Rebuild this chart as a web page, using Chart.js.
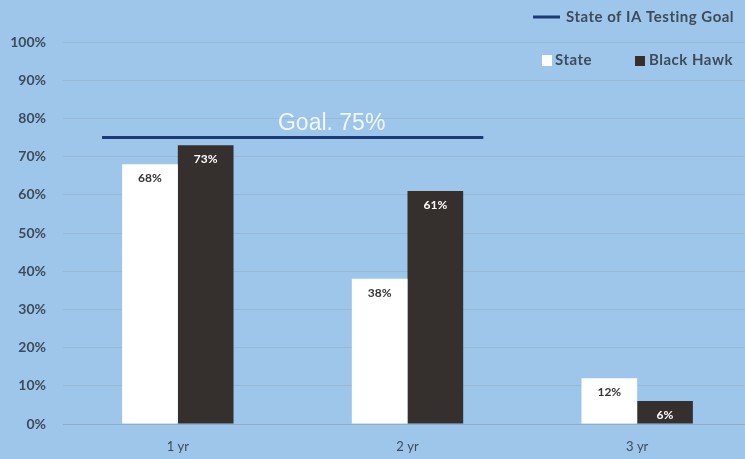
<!DOCTYPE html>
<html><head><meta charset="utf-8">
<script src="https://cdn.jsdelivr.net/npm/chart.js@4/dist/chart.umd.min.js"></script>
<style>html,body{margin:0;padding:0;background:#9dc6ea;overflow:hidden;}#wrap{width:745px;height:459px;overflow:hidden;}</style>
</head><body><div id="wrap"><canvas id="c" width="752" height="459"></canvas></div>
<script>
const categories = ['1 yr', '2 yr', '3 yr'];
const stateValues = [68, 38, 12];
const blackHawkValues = [73, 61, 6];
const goalValue = 75;
const goalLabel = 'Goal. 75%';
const goalLegend = 'State of IA Testing Goal';
const seriesNames = ['State', 'Black Hawk'];
const yTicks = [0, 10, 20, 30, 40, 50, 60, 70, 80, 90, 100];

const FONT = 'Lato, "Open Sans", sans-serif';
const TEXT = '#3d4b5a';

const overlay = {
  id: 'overlay',
  afterDatasetsDraw(chart) {
    const ctx = chart.ctx;
    const x = chart.scales.x, y = chart.scales.y;
    // data labels
    ctx.save();
    ctx.font = 'bold 12px ' + FONT;
    ctx.textAlign = 'center';
    ctx.textBaseline = 'middle';
    chart.data.datasets.forEach((ds, di) => {
      const meta = chart.getDatasetMeta(di);
      meta.data.forEach((bar, i) => {
        ctx.fillStyle = di === 0 ? '#333333' : '#ffffff';
        ctx.fillText(ds.data[i] + '%', bar.x, bar.y + 14);
      });
    });
    // goal line
    const gy = y.getPixelForValue(goalValue);
    const x0 = x.getPixelForValue(-0.33), x1 = x.getPixelForValue(1.33);
    ctx.strokeStyle = '#1c3a78';
    ctx.lineWidth = 3;
    ctx.beginPath(); ctx.moveTo(x0, gy); ctx.lineTo(x1, gy); ctx.stroke();
    ctx.fillStyle = 'rgba(255,255,255,0.85)';
    ctx.font = '23px "Liberation Sans", Arial, sans-serif';
    ctx.textBaseline = 'alphabetic';
    ctx.fillText(goalLabel, (x0 + x1) / 2 + 39, gy - 8);
    // legend
    ctx.font = 'bold 15px ' + FONT;
    ctx.letterSpacing = '0.5px';
    ctx.textAlign = 'left';
    ctx.textBaseline = 'middle';
    ctx.fillStyle = TEXT;
    ctx.strokeStyle = '#1c3a78';
    ctx.lineWidth = 3;
    ctx.beginPath(); ctx.moveTo(533, 17); ctx.lineTo(560, 17); ctx.stroke();
    ctx.fillText(goalLegend, 566, 17);
    ctx.fillStyle = '#ffffff';
    ctx.fillRect(542, 55, 10, 11);
    ctx.fillStyle = TEXT;
    ctx.fillText(seriesNames[0], 555, 60);
    ctx.fillStyle = '#352f2e';
    ctx.fillRect(635, 56, 10, 10);
    ctx.fillStyle = TEXT;
    ctx.fillText(seriesNames[1], 649, 60);
    ctx.restore();
  }
};

new Chart(document.getElementById('c'), {
  type: 'bar',
  data: {
    labels: categories,
    datasets: [
      { label: seriesNames[0], data: stateValues, backgroundColor: '#ffffff', categoryPercentage: 0.485, barPercentage: 1.0 },
      { label: seriesNames[1], data: blackHawkValues, backgroundColor: '#352f2e', categoryPercentage: 0.485, barPercentage: 1.0 }
    ]
  },
  options: {
    responsive: false,
    animation: false,
    devicePixelRatio: 1,
    layout: { padding: { top: 42, right: 0, left: 0, bottom: 0 } },
    plugins: { legend: { display: false }, tooltip: { enabled: false } },
    scales: {
      x: {
        grid: { display: false },
        border: { display: true, color: 'rgba(140,160,180,0.5)' },
        ticks: { color: TEXT, font: { family: FONT, size: 13 }, padding: 7 },
        afterFit(a) { a.height = 35; }
      },
      y: {
        min: 0, max: 100,
        afterBuildTicks(a) { a.ticks = yTicks.map(v => ({ value: v })); },
        grid: { color: 'rgba(140,160,175,0.35)', drawTicks: false },
        border: { display: false },
        ticks: { color: TEXT, font: { family: FONT, size: 14, weight: 'bold' }, padding: 17, callback: v => v + '%' },
        afterFit(a) { a.width = 63; }
      }
    }
  },
  plugins: [overlay]
});
</script></body></html>
